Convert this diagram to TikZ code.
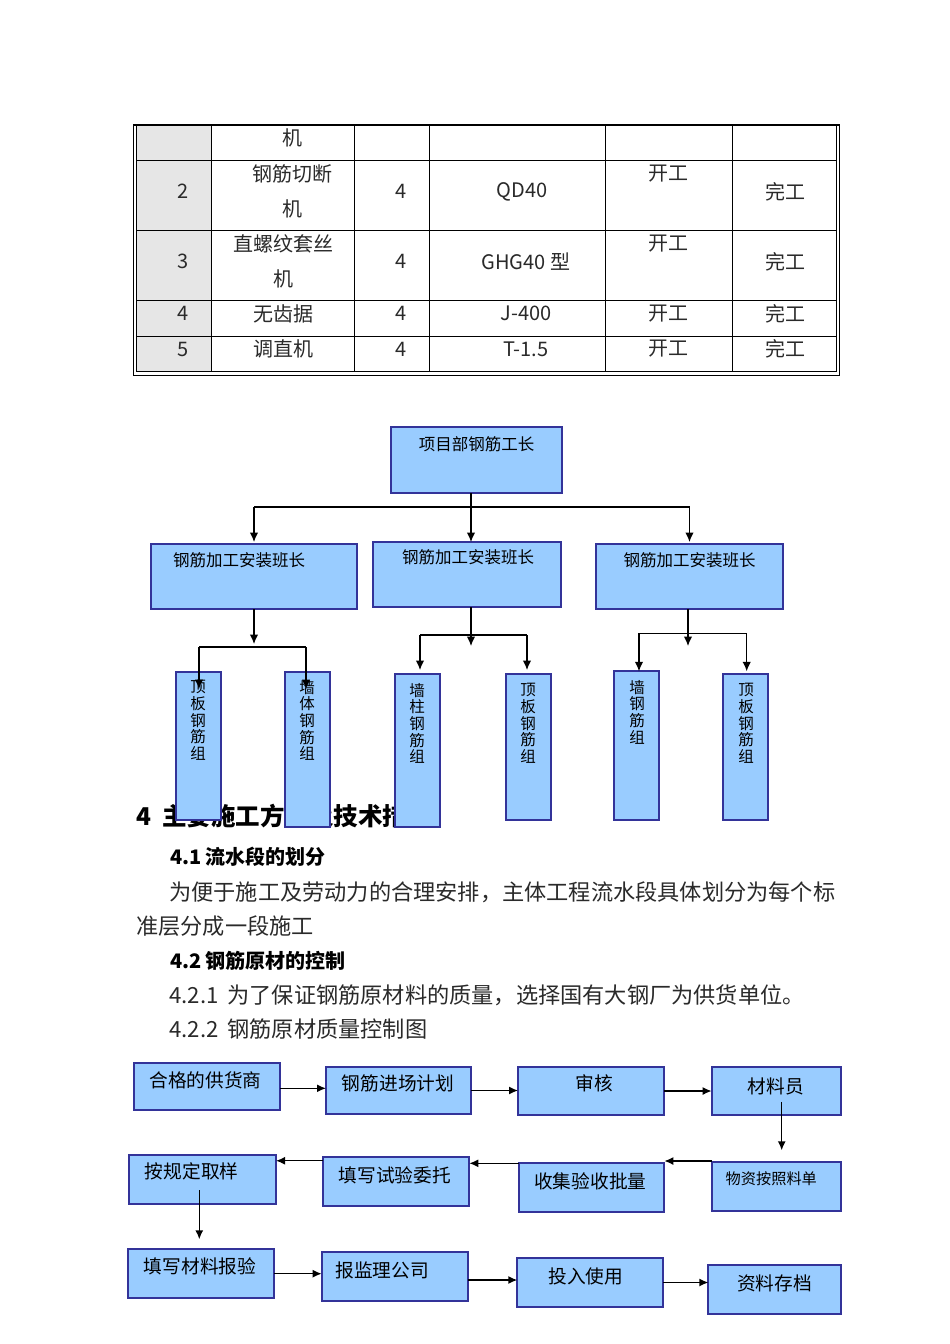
\documentclass[tikz,border=0pt]{standalone}
\usepackage{fontspec}
\setmainfont{Noto Sans CJK SC}
\usetikzlibrary{arrows.meta}
\definecolor{boxfill}{HTML}{99CCFF}
\definecolor{boxline}{HTML}{333399}
\definecolor{tgray}{HTML}{E6E6E6}
\definecolor{ink}{HTML}{2A2A2A}
\begin{document}
\begin{tikzpicture}[x=1pt,y=-1pt,
  box/.style={draw=boxline, fill=boxfill, line width=2pt, inner sep=0pt, outer sep=0pt},
  arr/.style={-{Latex[length=9.5pt,width=8.5pt]}, line width=1.3pt},
  farr/.style={-{Latex[length=9pt,width=8pt]}, line width=1.4pt},
  grid/.style={line width=0.9pt, draw=black},
  tcell/.style={inner sep=0pt, text=ink, font=\fontsize{20}{25}\selectfont, align=center},
  otxt/.style={inner sep=0pt, font=\fontsize{16.5}{17}\selectfont},
  vtxt/.style={inner sep=0pt, font=\fontsize{15.5}{16.7}\selectfont, align=center},
  ftxt/.style={inner sep=0pt, font=\fontsize{18.7}{20}\selectfont},
  body/.style={inner sep=0pt, anchor=west, text=ink, font=\fontsize{22.2}{26}\selectfont},
  headb/.style={inner sep=0pt, anchor=west, font=\fontsize{20}{24}\selectfont\bfseries},
]
% page
\fill[white] (0,0) rectangle (950,1344);
\useasboundingbox (0,0) rectangle (950,1344);

% ---------------- table ----------------
\fill[tgray] (136.7,125) rectangle (211,371.7);
\foreach \xx in {211,354,429,605,732} \draw[grid] (\xx,125) -- (\xx,371.7);
\foreach \yy in {160.7,230.7,300,336} \draw[grid] (136.7,\yy) -- (836.7,\yy);
\draw[line width=1.1pt] (133.3,125) -- (839.7,125);
\draw[line width=1pt] (133.3,125) -- (133.3,375.3) -- (839.7,375.3) -- (839.7,125);
\draw[line width=1pt] (136.7,125) -- (136.7,371.7) -- (836.7,371.7) -- (836.7,125);

\node[tcell] (c0b) at (292,138) {机};
\node[tcell] (c2a) at (182.7,191.7) {2};
\node[tcell] (c2b) at (292,174) {钢筋切断};
\node[tcell] (c2b2) at (292,209) {机};
\node[tcell] (c2c) at (401,191.7) {4};
\node[tcell] (c2d) at (522,191.7) {QD40};
\node[tcell] (c2e) at (668.5,174) {开工};
\node[tcell] (c2f) at (785.5,191.7) {完工};
\node[tcell] (c3a) at (182.7,261.7) {3};
\node[tcell] (c3b) at (283,244) {直螺纹套丝};
\node[tcell] (c3b2) at (283,279) {机};
\node[tcell] (c3c) at (401,261.7) {4};
\node[tcell] (c3d) at (526,261.7) {GHG40 型};
\node[tcell] (c3e) at (668.5,244) {开工};
\node[tcell] (c3f) at (785.5,261.7) {完工};
\node[tcell] (c4a) at (182.7,313.5) {4};
\node[tcell] (c4b) at (283,313.5) {无齿据};
\node[tcell] (c4c) at (401,313.5) {4};
\node[tcell] (c4d) at (526,313.5) {J-400};
\node[tcell] (c4e) at (668.5,313.5) {开工};
\node[tcell] (c4f) at (785.5,313.5) {完工};
\node[tcell] (c5a) at (182.7,349) {5};
\node[tcell] (c5b) at (283,349) {调直机};
\node[tcell] (c5c) at (401,349) {4};
\node[tcell] (c5d) at (526,349) {T-1.5};
\node[tcell] (c5e) at (668.5,349) {开工};
\node[tcell] (c5f) at (785.5,349) {完工};

% ---------------- section text ----------------
\node[inner sep=0pt, anchor=west, font=\fontsize{24.5}{28}\selectfont\bfseries] (h4) at (136,816) {4\hspace{11pt}主要施工方法及技术措施};
\node[headb] (h41) at (170,857) {4.1\hspace{4pt}流水段的划分};
\node[body] (p1) at (169,892) {为便于施工及劳动力的合理安排，主体工程流水段具体划分为每个标};
\node[body] (p2) at (136,926) {准层分成一段施工};
\node[headb] (h42) at (170,961) {4.2\hspace{4pt}钢筋原材的控制};
\node[body] (p3) at (169,995) {4.2.1\hspace{9pt}为了保证钢筋原材料的质量，选择国有大钢厂为供货单位。};
\node[body] (p4) at (169,1029) {4.2.2\hspace{9pt}钢筋原材质量控制图};

% ---------------- org chart ----------------
\node[box, minimum width=171, minimum height=66] (top) at (476.5,460) {};
\node[box, minimum width=206, minimum height=65] (L) at (254,576.5) {};
\node[box, minimum width=188, minimum height=65] (M) at (467,574.5) {};
\node[box, minimum width=187, minimum height=65] (R) at (689.5,576.5) {};
\node[otxt] (ttop) at (476.5,444) {项目部钢筋工长};
\node[otxt] (tL) at (239,560) {钢筋加工安装班长};
\node[otxt] (tM) at (468,557) {钢筋加工安装班长};
\node[otxt] (tR) at (689.5,560) {钢筋加工安装班长};

\node[box, minimum width=45, minimum height=148] (b1) at (198.5,746) {};
\node[box, minimum width=45, minimum height=155] (b2) at (307.5,749.5) {};
\node[box, minimum width=45, minimum height=153] (b3) at (417.5,750.5) {};
\node[box, minimum width=45, minimum height=146] (b4) at (528.5,747) {};
\node[box, minimum width=45, minimum height=149] (b5) at (636.5,745.5) {};
\node[box, minimum width=45, minimum height=146] (b6) at (745.5,747) {};
\node[vtxt] (v1) at (198,720.5) {顶\\板\\钢\\筋\\组};
\node[vtxt] (v2) at (307,720.5) {墙\\体\\钢\\筋\\组};
\node[vtxt] (v3) at (417,723.5) {墙\\柱\\钢\\筋\\组};
\node[vtxt] (v4) at (528,723.5) {顶\\板\\钢\\筋\\组};
\node[vtxt] (v5) at (637,712) {墙\\钢\\筋\\组};
\node[vtxt] (v6) at (746,723.5) {顶\\板\\钢\\筋\\组};

\coordinate (hub) at (471,507);
\draw[line width=1.3pt] (hub -| L.north) -- (hub -| R.north);
\draw[arr] ([xshift=-5.5pt]top.south) -- ([xshift=-5.5pt]top.south |- M.north);
\draw[arr] (hub -| L.north) -- ([yshift=2pt]L.north);
\draw[arr] (hub -| R.north) -- ([yshift=2pt]R.north);

\coordinate (hL) at (253,647);
\draw[arr] (L.south) -- ++(0,35);
\draw[line width=1.3pt] ([xshift=0.5pt]hL -| b1.north) -- ([xshift=-1.5pt]hL -| b2.north);
\draw[arr] ([xshift=0.5pt]hL -| b1.north) -- ++(0,42);
\draw[arr] ([xshift=-1.5pt]hL -| b2.north) -- ++(0,42);

\coordinate (hM) at (471,635);
\draw[arr] ([xshift=4pt]M.south) -- ++(0,39);
\draw[line width=1.3pt] ([xshift=2.5pt]hM -| b3.north) -- ([xshift=-1.5pt]hM -| b4.north);
\draw[arr] ([xshift=2.5pt]hM -| b3.north) -- ++(0,35);
\draw[arr] ([xshift=-1.5pt]hM -| b4.north) -- ++(0,35);

\coordinate (hR) at (688,633.3);
\draw[arr] ([xshift=-1.5pt]R.south) -- ++(0,37);
\draw[line width=1.3pt] ([xshift=2.5pt]hR -| b5.north) -- ([xshift=1.2pt]hR -| b6.north);
\draw[arr] ([xshift=2.5pt]hR -| b5.north) -- ++(0,38);
\draw[arr] ([xshift=1.2pt]hR -| b6.north) -- ++(0,38);

% ---------------- flow chart ----------------
\node[box, minimum width=146, minimum height=47] (A1) at (207,1086.5) {};
\node[box, minimum width=145, minimum height=47.6] (A2) at (398.5,1090.5) {};
\node[box, minimum width=146, minimum height=48] (A3) at (591,1091) {};
\node[box, minimum width=129.3, minimum height=48.3] (A4) at (776.3,1090.8) {};
\node[box, minimum width=146.7, minimum height=49] (B1) at (202.7,1179.5) {};
\node[box, minimum width=146, minimum height=48.7] (B2) at (396.3,1181.7) {};
\node[box, minimum width=145.3, minimum height=48.4] (B3) at (591.7,1187.5) {};
\node[box, minimum width=129.3, minimum height=48.4] (B4) at (776.3,1186.5) {};
\node[box, minimum width=145.7, minimum height=49.3] (C1) at (201.2,1273.7) {};
\node[box, minimum width=146, minimum height=48.4] (C2) at (394.7,1276.5) {};
\node[box, minimum width=146, minimum height=48.4] (C3) at (590.3,1282.5) {};
\node[box, minimum width=132.7, minimum height=49] (C4) at (774.7,1289.5) {};

\node[ftxt] (tA1) at (205.5,1080) {合格的供货商};
\node[ftxt] (tA2) at (398,1083.3) {钢筋进场计划};
\node[ftxt] (tA3) at (594,1083) {审核};
\node[ftxt] (tA4) at (776,1086.7) {材料员};
\node[ftxt] (tB1) at (191.7,1171.7) {按规定取样};
\node[ftxt] (tB2) at (394.8,1175) {填写试验委托};
\node[ftxt] (tB3) at (590.3,1181.7) {收集验收批量};
\node[inner sep=0pt, font=\fontsize{15.2}{17}\selectfont] (tB4) at (771.3,1178.3) {物资按照料单};
\node[ftxt] (tC1) at (200,1266.7) {填写材料报验};
\node[ftxt] (tC2) at (382.2,1270) {报监理公司};
\node[ftxt] (tC3) at (585.8,1276) {投入使用};
\node[ftxt] (tC4) at (774.5,1283.3) {资料存档};

\draw[farr] ([yshift=-1.8pt]A1.east) -- ([yshift=-1.8pt]A1.east -| A2.west);
\draw[farr] (A2.east) -- (A2.east -| A3.west);
\draw[farr] (A3.east) -- (A3.east -| A4.west);
\draw[farr] ([xshift=5.4pt,yshift=-11pt]A4.center) -- ++(0,48.5);
\draw[farr] ([yshift=1.3pt]B4.north west) -- ([yshift=1.3pt]B4.north west -| B3.east);
\draw[farr] (B3.north west) -- (B3.north west -| B2.east);
\draw[farr] ([yshift=-3.4pt]B2.north west) -- ([yshift=-3.4pt]B2.north west -| B1.east);
\draw[farr] ([xshift=-3.4pt,yshift=-10.5pt]B1.center) -- ++(0,49.3);
\draw[farr] (C1.east) -- (C1.east -| C2.west);
\draw[farr] ([yshift=-3.5pt]C2.east) -- ([yshift=-3.5pt]C2.east -| C3.west);
\draw[farr] (C3.east) -- (C3.east -| C4.west);
\end{tikzpicture}
\end{document}
